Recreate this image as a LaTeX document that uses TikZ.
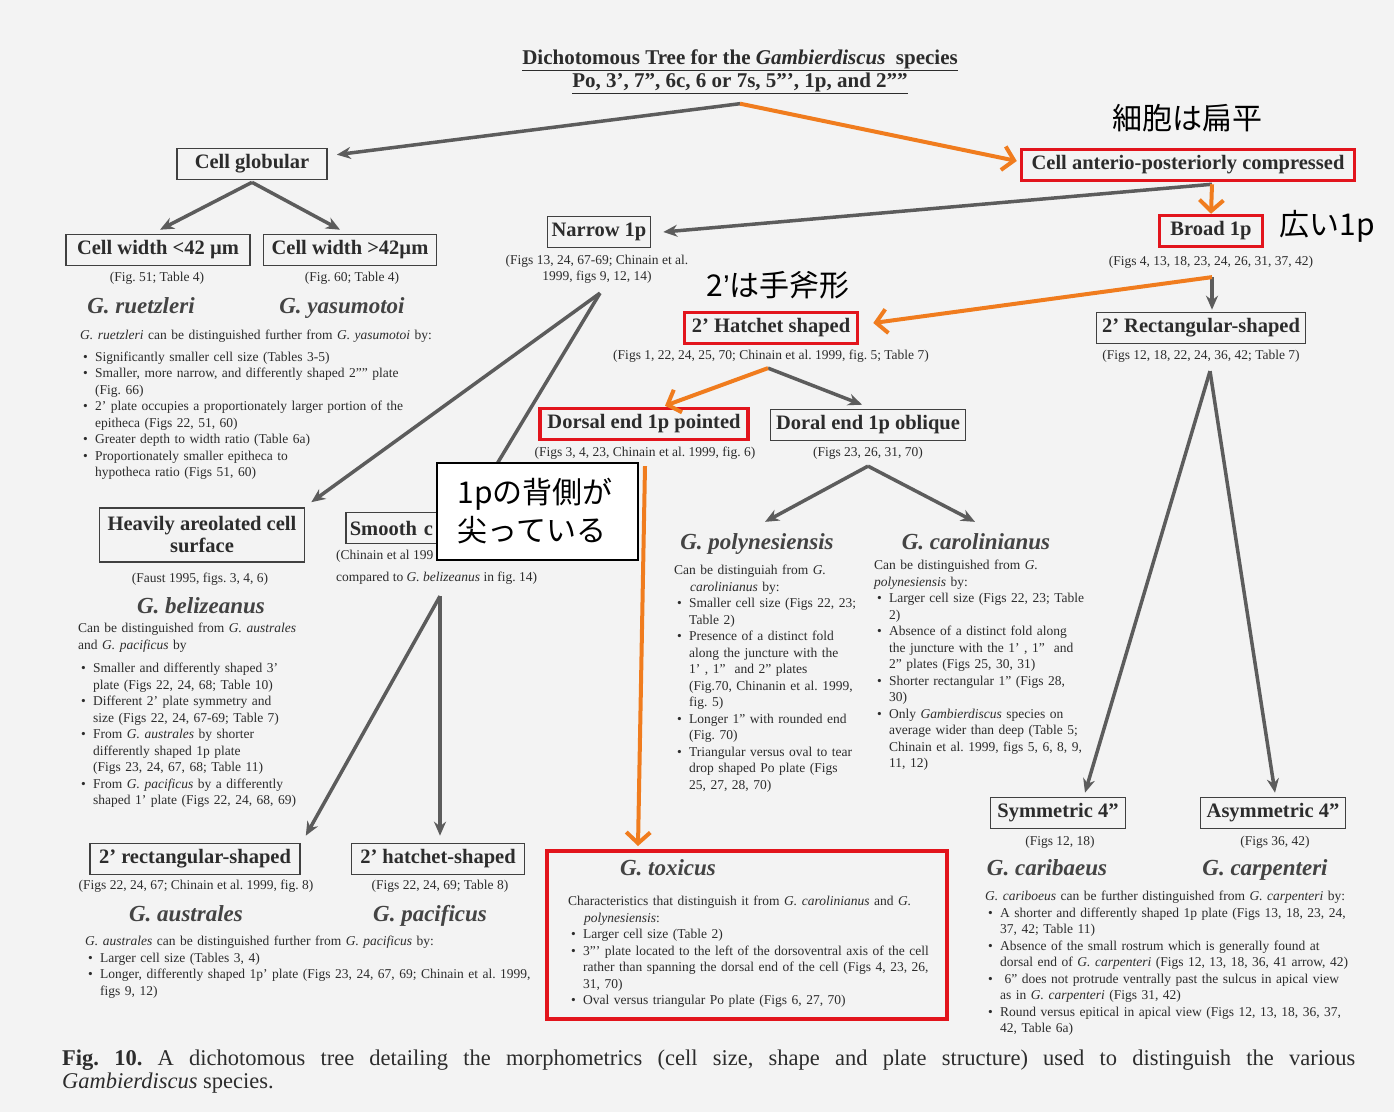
\documentclass[tikz,border=0pt]{standalone}
\usepackage{fontspec}
\setmainfont{Liberation Serif}
\newfontfamily\jp{Noto Sans CJK JP}
\newfontfamily\lsans{Liberation Sans}
\usetikzlibrary{arrows.meta,calc}
\frenchspacing
\definecolor{bg}{HTML}{F3F3F3}
\definecolor{txt}{HTML}{2C2C2C}
\definecolor{spc}{HTML}{444444}
\definecolor{boxc}{HTML}{404040}
\definecolor{arrc}{HTML}{5C5C5C}
\definecolor{orc}{HTML}{F07C1E}
\definecolor{redc}{HTML}{E2141C}
\newlength\bulw \setlength\bulw{15pt}
\newcommand{\myb}{\par\noindent\hangindent=\bulw\hangafter=1\makebox[\bulw][l]{\hspace{3pt}\textbullet}}
\newcommand{\myh}{\par\noindent\hangindent=16pt\hangafter=1 }
\tikzset{
  bx/.style={draw=boxc, line width=1.6pt, font=\fontsize{20.5}{23}\selectfont\bfseries, text=txt, inner xsep=4pt, inner ysep=2pt, minimum height=31pt, align=center},
  rbx/.style={bx, draw=redc, line width=3.5pt},
  capt/.style={font=\fontsize{13.5}{15}\selectfont, text=txt, inner sep=0pt, anchor=base},
  spn/.style={font=\fontsize{23}{26}\selectfont\bfseries\itshape, text=spc, inner sep=0pt, anchor=base},
  bodytxt/.style={font=\fontsize{13.5}{16.5}\selectfont, text=txt, inner sep=0pt, anchor=north west, align=left, text width=#1},
  ttl/.style={font=\fontsize{21}{23}\selectfont\bfseries, text=txt, inner sep=0pt, anchor=base},
  jpl/.style={font=\jp\fontsize{30}{38}\selectfont, text=black, inner sep=0pt},
  garr/.style={draw=arrc, line width=3.5pt, -{Stealth[length=14pt,width=12pt]}},
  oarr/.style={draw=orc, line width=4pt, -{Straight Barb[length=11pt,width=24pt]}},
}
\begin{document}
\begin{tikzpicture}[x=1pt,y=-1pt]
\useasboundingbox (0,0) rectangle (1394,1112);
\fill[bg] (0,0) rectangle (1394,1112);

% title
\node[ttl] (t1) at (740,64) {\underline{Dichotomous Tree for the \textit{Gambierdiscus}\ \ species}};
\node[ttl] (t2) at (740,87) {\underline{Po, 3', 7'', 6c, 6 or 7s, 5''', 1p, and 2''''}};

% boxes
\node[bx, minimum width=150pt] (cglob) at (252,164) {Cell globular};
\node[rbx, minimum width=333pt] (canter) at (1188,165) {Cell anterio-posteriorly compressed};
\node[rbx, minimum width=103pt] (broad) at (1211,231) {Broad 1p};
\node[bx, minimum width=184pt] (w42a) at (158,250) {Cell width <42 µm};
\node[bx, minimum width=173pt] (w42b) at (350,250) {Cell width >42µm};
\node[bx, minimum width=103pt] (narrow) at (599,232) {Narrow 1p};
\node[rbx, minimum width=173pt] (hatch) at (771,328) {2' Hatchet shaped};
\node[bx, minimum width=209pt] (rect2) at (1201,328) {2' Rectangular-shaped};
\node[rbx, minimum width=208pt] (dpoint) at (644,424) {Dorsal end 1p pointed};
\node[bx, minimum width=195pt] (doblq) at (868,425) {Doral end 1p oblique};
\node[bx, minimum width=205pt, minimum height=54pt, font=\fontsize{20.5}{22}\selectfont\bfseries] (heavy) at (202,535) {Heavily areolated cell\\surface};
\node[bx, anchor=west, text width=150pt, align=left] (smooth) at (345,528) {Smooth c};
\node[bx, minimum width=135pt] (sym) at (1058,813) {Symmetric 4''};
\node[bx, minimum width=145pt] (asym) at (1273,813) {Asymmetric 4''};
\node[bx, minimum width=210pt] (r2l) at (195,859) {2' rectangular-shaped};
\node[bx, minimum width=173pt] (h2l) at (438,859) {2' hatchet-shaped};
\node[draw=redc, line width=4pt, minimum width=400pt, minimum height=168pt, inner sep=0pt] (tox) at (747,935) {};

% captions
\node[capt] (capw42a) at (157,281) {(Fig. 51; Table 4)};
\node[capt] (capw42b) at (352,281) {(Fig. 60; Table 4)};
\node[capt] (capnarrowa) at (597,264) {(Figs 13, 24, 67-69; Chinain et al.};
\node[capt] (capnarrowb) at (597,280) {1999, figs 9, 12, 14)};
\node[capt] (capbroad) at (1211,265) {(Figs 4, 13, 18, 23, 24, 26, 31, 37, 42)};
\node[capt] (caphatch) at (771,359) {(Figs 1, 22, 24, 25, 70; Chinain et al. 1999, fig. 5; Table 7)};
\node[capt] (caprect2) at (1201,359) {(Figs 12, 18, 22, 24, 36, 42; Table 7)};
\node[capt] (capdpoint) at (645,456) {(Figs 3, 4, 23, Chinain et al. 1999, fig. 6)};
\node[capt] (capdoblq) at (868,456) {(Figs 23, 26, 31, 70)};
\node[capt] (capheavy) at (200,582) {(Faust 1995, figs. 3, 4, 6)};
\node[capt, anchor=base west] (capsmootha) at (336,559) {(Chinain et al 199};
\node[capt, anchor=base west] (capsmoothb) at (336,581) {compared to \textit{G. belizeanus} in fig. 14)};
\node[capt] (capsym) at (1060,845) {(Figs 12, 18)};
\node[capt] (capasym) at (1275,845) {(Figs 36, 42)};
\node[capt] (capr2l) at (196,889) {(Figs 22, 24, 67; Chinain et al. 1999, fig. 8)};
\node[capt] (caph2l) at (440,889) {(Figs 22, 24, 69; Table 8)};

% species names
\node[spn] (sruetz) at (141,313) {G. ruetzleri};
\node[spn] (syasu) at (342,313) {G. yasumotoi};
\node[spn] (sbeliz) at (201,613) {G. belizeanus};
\node[spn] (saustr) at (186,921) {G. australes};
\node[spn] (spacif) at (430,921) {G. pacificus};
\node[spn] (spoly) at (757,549) {G. polynesiensis};
\node[spn] (scarol) at (976,549) {G. carolinianus};
\node[spn] (stox) at (668,875) {G. toxicus};
\node[spn] (scarib) at (1047,875) {G. caribaeus};
\node[spn] (scarp) at (1265,875) {G. carpenteri};

% body text blocks
\node[bodytxt=380pt] (bruetz) at (80,328) {\noindent\strut\textit{G. ruetzleri} can be distinguished further from \textit{G. yasumotoi} by:\par\vspace{5pt}
\myb Significantly smaller cell size (Tables 3-5)
\myb Smaller, more narrow, and differently shaped 2'''' plate\newline (Fig. 66)
\myb 2' plate occupies a proportionately larger portion of the\newline epitheca (Figs 22, 51, 60)
\myb Greater depth to width ratio (Table 6a)
\myb Proportionately smaller epitheca to\newline hypotheca ratio (Figs 51, 60)\par};

\node[bodytxt=260pt] (bbeliz) at (78,621) {\noindent\strut Can be distinguished from \textit{G. australes}\newline and \textit{G. pacificus} by\par\vspace{7pt}
\myb Smaller and differently shaped 3'\newline plate (Figs 22, 24, 68; Table 10)
\myb Different 2' plate symmetry and\newline size (Figs 22, 24, 67-69; Table 7)
\myb From \textit{G. australes} by shorter\newline differently shaped 1p plate\newline (Figs 23, 24, 67, 68; Table 11)
\myb From \textit{G. pacificus} by a differently\newline shaped 1' plate (Figs 22, 24, 68, 69)\par};

\node[bodytxt=460pt] (baustr) at (85,934) {\noindent\strut\textit{G. australes} can be distinguished further from \textit{G. pacificus} by:
\myb Larger cell size (Tables 3, 4)
\myb Longer, differently shaped 1p' plate (Figs 23, 24, 67, 69; Chinain et al. 1999,\newline figs 9, 12)\par};

\node[bodytxt=200pt] (bpoly) at (674,558) {\myh\strut Can be distinguiah from \textit{G.}\newline \textit{carolinianus} by:
\myb Smaller cell size (Figs 22, 23;\newline Table 2)
\myb Presence of a distinct fold\newline along the juncture with the\newline 1' , 1''\ \ and 2'' plates\newline (Fig.70, Chinanin et al. 1999,\newline fig. 5)
\myb Longer 1'' with rounded end\newline (Fig. 70)
\myb Triangular versus oval to tear\newline drop shaped Po plate (Figs\newline 25, 27, 28, 70)\par};

\node[bodytxt=220pt] (bcarol) at (874,558) {\noindent\strut Can be distinguished from \textit{G.}\newline \textit{polynesiensis} by:
\myb Larger cell size (Figs 22, 23; Table\newline 2)
\myb Absence of a distinct fold along\newline the juncture with the 1' , 1''\ \ and\newline 2'' plates (Figs 25, 30, 31)
\myb Shorter rectangular 1'' (Figs 28,\newline 30)
\myb Only \textit{Gambierdiscus} species on\newline average wider than deep (Table 5;\newline Chinain et al. 1999, figs 5, 6, 8, 9,\newline 11, 12)\par};

\node[bodytxt=370pt] (btox) at (568,889) {\myh\strut Characteristics that distinguish it from \textit{G. carolinianus} and \textit{G.}\newline \textit{polynesiensis}:
\myb Larger cell size (Table 2)
\myb 3''' plate located to the left of the dorsoventral axis of the cell\newline rather than spanning the dorsal end of the cell (Figs 4, 23, 26,\newline 31, 70)
\myb Oval versus triangular Po plate (Figs 6, 27, 70)\par};

\node[bodytxt=395pt] (bcarib) at (985,889) {\noindent\strut\textit{G. cariboeus} can be further distinguished from \textit{G. carpenteri} by:
\myb A shorter and differently shaped 1p plate (Figs 13, 18, 23, 24,\newline 37, 42; Table 11)
\myb Absence of the small rostrum which is generally found at\newline dorsal end of \textit{G. carpenteri} (Figs 12, 13, 18, 36, 41 arrow, 42)
\myb \ 6'' does not protrude ventrally past the sulcus in apical view\newline as in \textit{G. carpenteri} (Figs 31, 42)
\myb Round versus epitical in apical view (Figs 12, 13, 18, 36, 37,\newline 42, Table 6a)\par};

% figure caption
\node[font=\fontsize{22.5}{25}\selectfont, text=txt, inner sep=0pt, anchor=base west] (fcap1) at (62,1065) {\makebox[1293pt][s]{\textbf{Fig. 10.} A dichotomous tree detailing the morphometrics (cell size, shape and plate structure) used to distinguish the various}};
\node[font=\fontsize{22.5}{25}\selectfont, text=txt, inner sep=0pt, anchor=base west] (fcap2) at (62,1088) {\textit{Gambierdiscus} species.};

% split coordinates
\coordinate (tsplit) at ($(t2.south)+(0,10)$);
\coordinate (csplit) at ($(canter.south)+(24,2)$);
\coordinate (nsplit) at ($(capnarrowb.south)+(3,10)$);
\coordinate (bsplit) at ($(capbroad.south)+(1,9)$);
\coordinate (hsplit) at ($(caphatch.south)+(-3,6)$);
\coordinate (dsplit) at ($(capdpoint.south)+(0,7)$);
\coordinate (osplit) at ($(capdoblq.south)+(0,7)$);
\coordinate (rsplit) at ($(caprect2.south)+(9,9)$);
\coordinate (ssplit) at ($(capsmoothb.south west)+(104,12)$);

% grey connectors
\draw[garr] (tsplit) -- ($(cglob.north east)+(9,7)$);
\draw[garr] ($(cglob.south)+(0,2)$) -- ($(w42a.north)+(2,-4)$);
\draw[garr] ($(cglob.south)+(0,2)$) -- ($(w42b.north)+(-10,-4)$);
\draw[garr] (csplit) -- ($(narrow.east)+(12,0)$);
\draw[garr] (bsplit) -- ($(rect2.north)+(11,-2)$);
\draw[garr] (nsplit) -- ($(heavy.north east)+(6,-5)$);
\draw[garr] (nsplit) -- ($(smooth.north west)+(125,-3)$);
\draw[garr] (hsplit) -- ($(doblq.north)+(-6,-4)$);
\draw[garr] (osplit) -- ($(spoly.north)+(8,-11)$);
\draw[garr] (osplit) -- ($(scarol.north)+(-1,-11)$);
\draw[garr] (rsplit) -- ($(sym.north)+(27,-4)$);
\draw[garr] (rsplit) -- ($(asym.north)+(2,-4)$);
\draw[garr] (ssplit) -- ($(r2l.north east)+(5,-7)$);
\draw[garr] (ssplit) -- ($(h2l.north)+(2,-7)$);

% orange connectors
\draw[oarr] (tsplit) -- ($(canter.west)+(-3,-4)$);
\draw[oarr] (csplit) -- (broad.north);
\draw[oarr] (bsplit) -- ($(hatch.east)+(14,-5)$);
\draw[oarr] (hsplit) -- ($(dpoint.north)+(21,-1)$);
\draw[oarr] (dsplit) -- ($(tox.north west)+(93,-3)$);

% Japanese annotations
\node[jpl] (jp1) at (1187,118) {細胞は扁平};
\node[jpl] (jp2) at (1327,226) {広い1p};
\node[jpl] (jp3) at (778,285) {2{\lsans ’}は手斧形};
\node[jpl, draw=black, fill=white, line width=1.5pt, minimum width=201pt, minimum height=97pt, text width=160pt, inner xsep=20pt, align=left] (jpbox) at (537.5,511.5) {1pの背側が\\尖っている};
\end{tikzpicture}
\end{document}
